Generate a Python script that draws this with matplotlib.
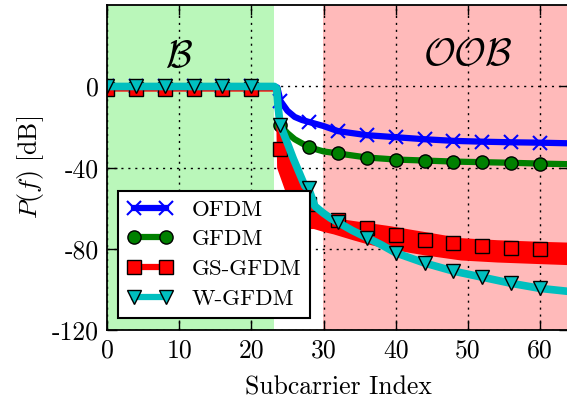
import matplotlib
matplotlib.use("Agg")
import matplotlib.pyplot as plt
from matplotlib.lines import Line2D

plt.rcParams['font.family'] = ['cmr10', 'DejaVu Serif']
plt.rcParams['mathtext.fontset'] = 'cm'
plt.rcParams['axes.unicode_minus'] = False
plt.rcParams['axes.formatter.use_mathtext'] = True

# ---------------- data ----------------
series_names = ["OFDM", "GFDM", "GS-GFDM", "W-GFDM"]

x_ofdm = [0, 23, 23.6, 23.9, 24, 25, 26, 27, 28, 30, 32, 36, 40, 44, 48, 52, 56, 60, 64]
y_ofdm = [0, 0, -0.5, -5, -7, -12, -15, -16.5, -17.5, -19.5, -22, -24, -25, -26, -26.8, -27.2, -27.5, -27.7, -28]

x_gfdm = [0, 23, 23.6, 23.8, 24, 25, 26, 28, 30, 32, 36, 40, 44, 48, 52, 56, 60, 64]
y_gfdm = [0, 0, -1, -14, -19, -23, -26, -30, -32, -33, -35, -36, -36.5, -37, -37.3, -37.6, -38, -38.3]

x_gs_band = [0, 23.3, 23.5, 24, 25, 26.5, 28, 28.6, 30, 31.3, 34, 36, 39, 44, 49, 54, 60, 64]
gs_upper = [-0.3, -0.3, -15, -20, -28, -40, -52, -58, -62, -64.6, -66, -67, -68.5, -71.5, -74.5, -75.5, -76.3, -76.7]
gs_lower = [-2.3, -2.3, -40, -45, -55, -65, -70, -70, -71.5, -72.6, -75.5, -77.5, -80, -83, -85.5, -86.5, -87.3, -87.8]

x_wgfdm = [0, 23.2, 23.5, 23.7, 24, 25, 25.8, 27.4, 28, 28.8, 30, 31, 32, 34, 36, 38, 40, 44, 48, 52, 56, 60, 64]
y_wgfdm = [0, 0, -1, -10, -19, -28, -35.5, -49, -51, -59, -62.5, -65, -67, -71, -74.5, -78, -82, -87, -91, -94, -97, -99.5, -101]

marker_x = [0, 4, 8, 12, 16, 20, 24, 28, 32, 36, 40, 44, 48, 52, 56, 60]
mk_ofdm = [0, 0, 0, 0, 0, 0, -7, -17.5, -22, -24, -25, -26, -26.8, -27.2, -27.5, -27.7]
mk_gfdm = [0, 0, 0, 0, 0, 0, -19, -30, -33, -35, -36, -36.5, -37, -37.3, -37.6, -38]
mk_gs = [-1, -1, -1, -1, -1, -1, -30.6, -58, -65.7, -69.6, -73, -75.5, -77.2, -78.5, -79.5, -80]
mk_wgfdm = [0, 0, 0, 0, 0, 0, -19, -50, -67, -74.5, -82, -87, -91, -94, -97, -99.5]

in_band_end = 23.1
oob_start = 29.9

x_ticks = [0, 10, 20, 30, 40, 50, 60]
y_ticks = [-120, -80, -40, 0]
y_ticklabels = ["-120", "-80", "-40", "0"]

# ---------------- figure ----------------
fig = plt.figure(figsize=(5.67, 4.01), dpi=100)
ax = fig.add_axes([107 / 567, 1 - 330 / 401, (569 - 107) / 567, (330 - 5.3) / 401])

green = (0.73, 0.97, 0.73)
pink = (1.0, 0.73, 0.73)
ax.axvspan(0, in_band_end, color=green, lw=0, zorder=0.1)
ax.axvspan(oob_start, 64, color=pink, lw=0, zorder=0.1)

ax.set_axisbelow(True)
ax.grid(True, color='black', linestyle=(0, (1.5, 3.5)), linewidth=1.0)

c_blue = '#0000ff'
c_green = '#008000'
c_red = '#ff0000'
c_cyan = '#00bfbf'
ms = 9.5

# OFDM
ax.plot(x_ofdm, y_ofdm, color=c_blue, lw=4.5, solid_joinstyle='round', zorder=2)
ax.plot(marker_x, mk_ofdm, ls='none', marker='x', ms=ms, mew=1.5, color=c_blue, zorder=2)
# GFDM
ax.plot(x_gfdm, y_gfdm, color=c_green, lw=4.5, solid_joinstyle='round', zorder=2.1)
ax.plot(marker_x, mk_gfdm, ls='none', marker='o', ms=ms, mfc=c_green, mec='black', mew=1.0, zorder=2.1)
# GS-GFDM
ax.fill_between(x_gs_band, gs_upper, gs_lower, color=c_red, lw=0, zorder=2.2)
ax.plot(marker_x, mk_gs, ls='none', marker='s', ms=ms, mfc=c_red, mec='black', mew=1.0, zorder=2.2)
# W-GFDM
ax.plot(x_wgfdm, y_wgfdm, color=c_cyan, lw=5.5, solid_joinstyle='round', zorder=2.3)
ax.plot(marker_x, mk_wgfdm, ls='none', marker='v', ms=ms, mfc=c_cyan, mec='black', mew=1.0, zorder=2.3)

ax.text(10, 14.5, r'$\mathcal{B}$', fontsize=28, ha='center', va='center', zorder=3)
ax.text(50, 15.5, r'$\mathcal{OOB}$', fontsize=28, ha='center', va='center', zorder=3)

ax.set_xlim(0, 64)
ax.set_ylim(-120, 40)
ax.set_xticks(x_ticks)
ax.set_xticklabels([str(t) for t in x_ticks])
ax.set_yticks(y_ticks)
ax.set_yticklabels(y_ticklabels)
ax.tick_params(direction='in', length=7, width=1.0, top=True, right=True,
               labelsize=18.5, pad=6)
for s in ax.spines.values():
    s.set_linewidth(1.3)
    s.set_zorder(4)

ax.set_xlabel('Subcarrier Index', fontsize=18.5, labelpad=10)
ax.set_ylabel(r'$P(f)$ [dB]', fontsize=18.5, labelpad=4)

handles = [
    Line2D([], [], color=c_blue, lw=4.5, marker='x', ms=ms, mew=1.5, mec=c_blue),
    Line2D([], [], color=c_green, lw=4.5, marker='o', ms=ms, mfc=c_green, mec='black', mew=1.0),
    Line2D([], [], color=c_red, lw=4.5, marker='s', ms=ms, mfc=c_red, mec='black', mew=1.0),
    Line2D([], [], color=c_cyan, lw=4.5, marker='v', ms=ms, mfc=c_cyan, mec='black', mew=1.0),
]
leg = ax.legend(handles, series_names, loc='lower left', bbox_to_anchor=(0.024, 0.037),
                borderaxespad=0, fancybox=False, framealpha=1, edgecolor='black',
                fontsize=16.5, numpoints=2, handlelength=2.0, handletextpad=0.8,
                labelspacing=0.42, borderpad=0.4)
leg.get_frame().set_linewidth(1.5)
leg.set_zorder(5)

fig.savefig('out.png', dpi=100)
